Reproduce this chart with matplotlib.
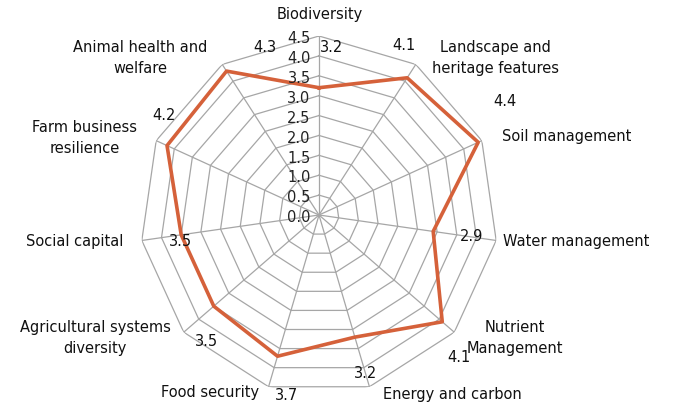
import numpy as np
import matplotlib
matplotlib.use("Agg")
import matplotlib.pyplot as plt
from matplotlib.transforms import offset_copy

categories = ["Biodiversity", "Landscape and\nheritage features", "Soil management",
              "Water management", "Nutrient\nManagement", "Energy and carbon",
              "Food security", "Agricultural systems\ndiversity", "Social capital",
              "Farm business\nresilience", "Animal health and\nwelfare"]
values = [3.2, 4.1, 4.4, 2.9, 4.1, 3.2, 3.7, 3.5, 3.5, 4.2, 4.3]
rticks = [0.0, 0.5, 1.0, 1.5, 2.0, 2.5, 3.0, 3.5, 4.0, 4.5]

W, H = 694, 409
fig = plt.figure(figsize=(W / 100, H / 100), dpi=100)
cx, cy, R = 319, 215, 179
ax = fig.add_axes([(cx - R) / W, (H - cy - R) / H, 2 * R / W, 2 * R / H], polar=True)
ax.set_theta_offset(np.pi / 2)
ax.set_theta_direction(-1)
ax.set_ylim(0, 4.5)
ax.set_frame_on(False)
ax.grid(False)
ax.set_xticks([])
ax.set_yticks([])

n = len(categories)
ang = np.linspace(0, 2 * np.pi, n, endpoint=False)
angc = np.append(ang, ang[0])
gc = "#A6A6A6"
for r in rticks[1:]:
    ax.plot(angc, [r] * (n + 1), color=gc, lw=0.9, zorder=1)
for a in ang:
    ax.plot([a, a], [0, 4.5], color=gc, lw=0.9, zorder=1)

vc = values + values[:1]
ax.plot(angc, vc, color="#D5613A", lw=2.6, zorder=3)

font = "DejaVu Sans"
fs = 10.5
# radial tick labels along the first axis
tr = offset_copy(ax.transData, fig=fig, x=-6, y=-2, units="points")
for r in rticks:
    ax.text(0, r, f"{r:.1f}", ha="right", va="center", fontsize=fs, color="#222222",
            family=font, transform=tr, zorder=4)

def ftext(x, y, s, ha="center", va="center"):
    fig.text(x / W, 1 - y / H, s, ha=ha, va=va, fontsize=fs, family=font,
             color="#111111", linespacing=1.55)

cat_pos = [(320, 15, "center"), (495, 58, "center"), (567, 137, "center"),
           (503, 242, "left"), (515, 338, "center"), (452, 395, "center"),
           (210, 393, "center"), (95, 338, "center"), (75, 242, "center"),
           (85, 138, "center"), (140, 58, "center")]
for (x, y, ha), s in zip(cat_pos, categories):
    ftext(x, y, s, ha=ha)

val_pos = [(332, 48), (404, 45), (505, 102), (472, 237), (459, 357), (366, 373),
           (287, 395), (207, 342), (180, 241), (164, 115), (265, 47)]
for (x, y), v in zip(val_pos, values):
    ftext(x, y, f"{v:.1f}")

fig.savefig("out.png", dpi=100)
